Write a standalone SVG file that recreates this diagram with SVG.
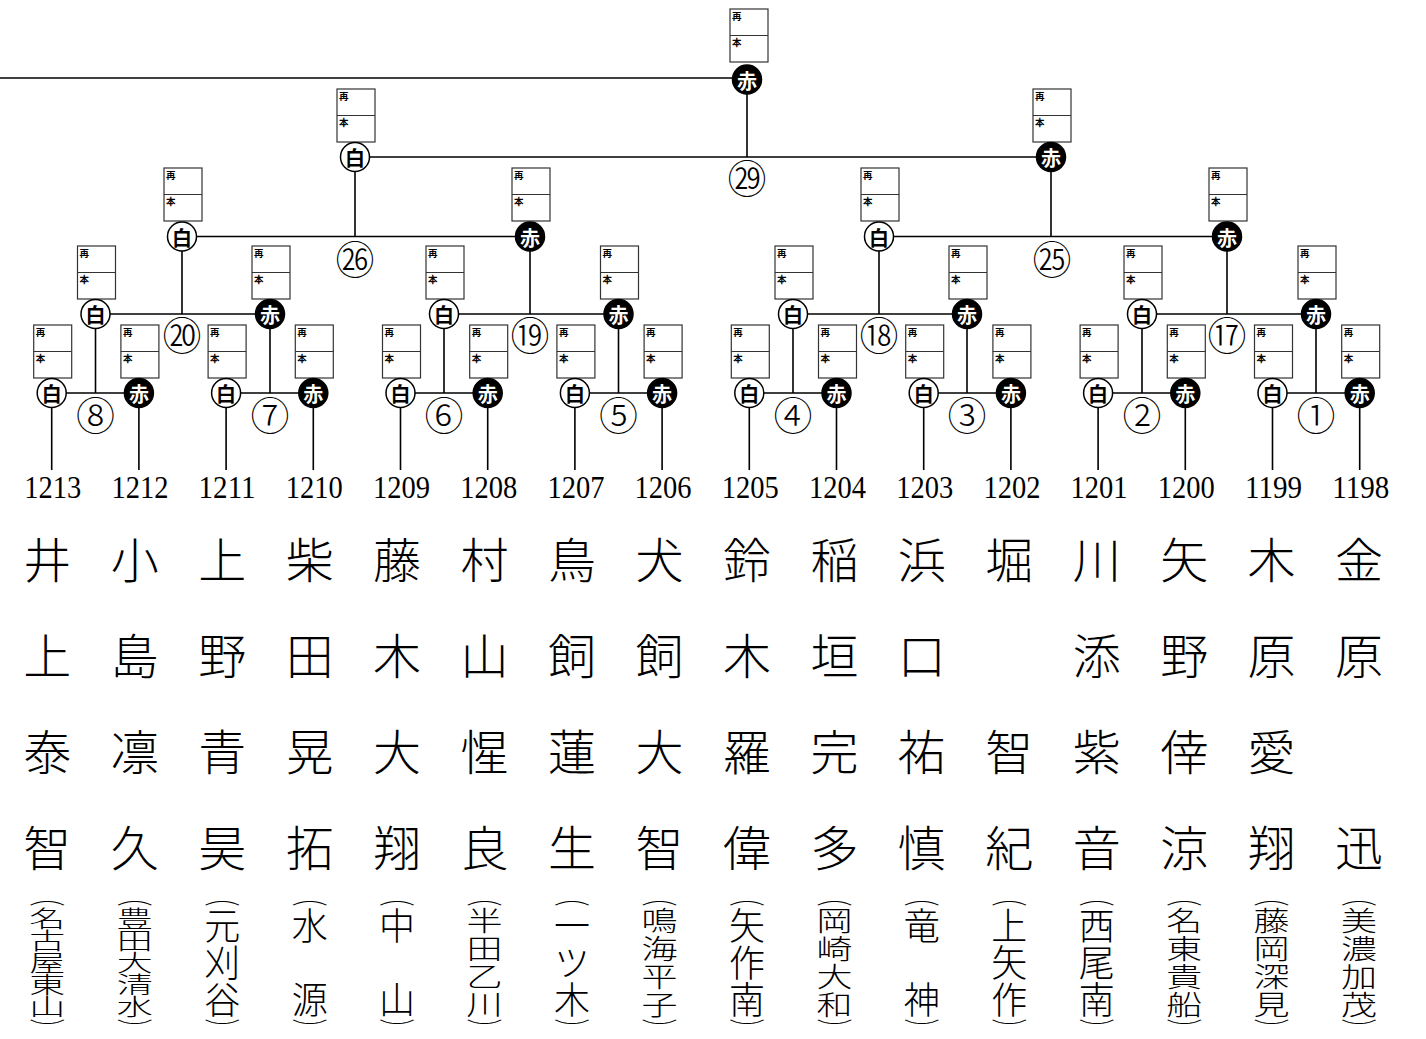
<svg xmlns="http://www.w3.org/2000/svg" xmlns:xlink="http://www.w3.org/1999/xlink" width="1426" height="1039" viewBox="0 0 1426 1039">
<style>
.ln{stroke:#000;stroke-width:1.6;fill:none}
.bx{fill:#fff;stroke:#333;stroke-width:1.2}
.sm{font-family:"Noto Sans CJK JP",sans-serif;font-weight:bold;font-size:9.5px;fill:#000}
.mk{font-family:"Noto Sans CJK JP",sans-serif;font-weight:bold;font-size:20px;text-anchor:middle;dominant-baseline:central}
.rn{font-family:"Noto Sans CJK JP",sans-serif;font-weight:300;font-size:39px;text-anchor:middle;dominant-baseline:central;fill:#000}
.num{font-family:"Liberation Serif",serif;font-size:32px;text-anchor:middle;fill:#000}
.nm{font-family:"Noto Sans CJK JP",sans-serif;font-weight:300;font-size:48px;text-anchor:middle;dominant-baseline:central;fill:#000}
.sc{font-family:"Noto Sans CJK JP",sans-serif;font-weight:300;font-size:36px;writing-mode:vertical-rl;fill:#000}
</style>
<defs>
<g id="sb"><rect class="bx" x="0" y="0" width="38" height="53"/><line x1="0" y1="26.5" x2="38" y2="26.5" stroke="#333" stroke-width="1.2"/><text class="sm" x="2" y="11">再</text><text class="sm" x="2" y="37">本</text></g>
<g id="mw"><circle r="14.5" fill="#fff" stroke="#000" stroke-width="1.5"/><text class="mk" y="0.5" fill="#000">白</text></g>
<g id="mr"><circle r="14.5" fill="#000" stroke="#000" stroke-width="1.5"/><text class="mk" y="0.5" fill="#fff">赤</text></g>
</defs>
<rect width="1426" height="1039" fill="#fff"/>

<g id="connectors" class="ln">
<path d="M0 78H747M747 79.5V157M355 157H1051M355 157V236.5M1051 157V236.5"/>
<path d="M182 236.5H530M879 236.5H1227M182 236.5V314M530 236.5V314M879 236.5V314M1227 236.5V314"/>
<path d="M95.5 314H270M444 314H618.5M793 314H967M1142 314H1316"/>
<path d="M95.5 314V393M270 314V393M444 314V393M618.5 314V393M793 314V393M967 314V393M1142 314V393M1316 314V393"/>
<path d="M51.7 393H138.9M226.1 393H313.3M400.5 393H487.7M574.9 393H662.1M749.3 393H836.5M923.7 393H1010.9M1098.1 393H1185.3M1272.5 393H1359.7"/>
<path d="M51.7 393V470M138.9 393V470M226.1 393V470M313.3 393V470M400.5 393V470M487.7 393V470M574.9 393V470M662.1 393V470M749.3 393V470M836.5 393V470M923.7 393V470M1010.9 393V470M1098.1 393V470M1185.3 393V470M1272.5 393V470M1359.7 393V470"/>
</g>

<g id="match-labels">
<text class="rn" x="747" y="176">㉙</text>
<text class="rn" x="355" y="257">㉖</text>
<text class="rn" x="1052" y="257">㉕</text>
<text class="rn" x="182" y="332.5">⑳</text>
<text class="rn" x="530" y="332.5">⑲</text>
<text class="rn" x="879" y="332.5">⑱</text>
<text class="rn" x="1227" y="332.5">⑰</text>
<text class="rn" x="95.5" y="413">⑧</text>
<text class="rn" x="270" y="413">⑦</text>
<text class="rn" x="444" y="413">⑥</text>
<text class="rn" x="618.5" y="413">⑤</text>
<text class="rn" x="793" y="413">④</text>
<text class="rn" x="967" y="413">③</text>
<text class="rn" x="1142" y="413">②</text>
<text class="rn" x="1316" y="413">①</text>
</g>

<g id="n-final"><use xlink:href="#sb" x="730" y="9"/><use xlink:href="#mr" x="747" y="79.5"/></g>
<g id="n-l4-1"><use xlink:href="#sb" x="337" y="89"/><use xlink:href="#mw" x="355" y="157"/></g>
<g id="n-l4-2"><use xlink:href="#sb" x="1033" y="89"/><use xlink:href="#mr" x="1051" y="157"/></g>
<g id="n-l3-1"><use xlink:href="#sb" x="164" y="168"/><use xlink:href="#mw" x="182" y="236.5"/></g>
<g id="n-l3-2"><use xlink:href="#sb" x="512" y="168"/><use xlink:href="#mr" x="530" y="236.5"/></g>
<g id="n-l3-3"><use xlink:href="#sb" x="861" y="168"/><use xlink:href="#mw" x="879" y="236.5"/></g>
<g id="n-l3-4"><use xlink:href="#sb" x="1209" y="168"/><use xlink:href="#mr" x="1227" y="236.5"/></g>
<g id="n-l2-1"><use xlink:href="#sb" x="77.5" y="246"/><use xlink:href="#mw" x="95.5" y="314"/></g>
<g id="n-l2-2"><use xlink:href="#sb" x="252" y="246"/><use xlink:href="#mr" x="270" y="314"/></g>
<g id="n-l2-3"><use xlink:href="#sb" x="426" y="246"/><use xlink:href="#mw" x="444" y="314"/></g>
<g id="n-l2-4"><use xlink:href="#sb" x="600.5" y="246"/><use xlink:href="#mr" x="618.5" y="314"/></g>
<g id="n-l2-5"><use xlink:href="#sb" x="775" y="246"/><use xlink:href="#mw" x="793" y="314"/></g>
<g id="n-l2-6"><use xlink:href="#sb" x="949" y="246"/><use xlink:href="#mr" x="967" y="314"/></g>
<g id="n-l2-7"><use xlink:href="#sb" x="1124" y="246"/><use xlink:href="#mw" x="1142" y="314"/></g>
<g id="n-l2-8"><use xlink:href="#sb" x="1298" y="246"/><use xlink:href="#mr" x="1316" y="314"/></g>

<g id="n-1213"><use xlink:href="#sb" x="33.7" y="325"/><use xlink:href="#mw" x="51.7" y="393"/></g>
<g id="n-1212"><use xlink:href="#sb" x="120.9" y="325"/><use xlink:href="#mr" x="138.9" y="393"/></g>
<g id="n-1211"><use xlink:href="#sb" x="208.1" y="325"/><use xlink:href="#mw" x="226.1" y="393"/></g>
<g id="n-1210"><use xlink:href="#sb" x="295.3" y="325"/><use xlink:href="#mr" x="313.3" y="393"/></g>
<g id="n-1209"><use xlink:href="#sb" x="382.5" y="325"/><use xlink:href="#mw" x="400.5" y="393"/></g>
<g id="n-1208"><use xlink:href="#sb" x="469.7" y="325"/><use xlink:href="#mr" x="487.7" y="393"/></g>
<g id="n-1207"><use xlink:href="#sb" x="556.9" y="325"/><use xlink:href="#mw" x="574.9" y="393"/></g>
<g id="n-1206"><use xlink:href="#sb" x="644.1" y="325"/><use xlink:href="#mr" x="662.1" y="393"/></g>
<g id="n-1205"><use xlink:href="#sb" x="731.3" y="325"/><use xlink:href="#mw" x="749.3" y="393"/></g>
<g id="n-1204"><use xlink:href="#sb" x="818.5" y="325"/><use xlink:href="#mr" x="836.5" y="393"/></g>
<g id="n-1203"><use xlink:href="#sb" x="905.7" y="325"/><use xlink:href="#mw" x="923.7" y="393"/></g>
<g id="n-1202"><use xlink:href="#sb" x="992.9" y="325"/><use xlink:href="#mr" x="1010.9" y="393"/></g>
<g id="n-1201"><use xlink:href="#sb" x="1080.1" y="325"/><use xlink:href="#mw" x="1098.1" y="393"/></g>
<g id="n-1200"><use xlink:href="#sb" x="1167.3" y="325"/><use xlink:href="#mr" x="1185.3" y="393"/></g>
<g id="n-1199"><use xlink:href="#sb" x="1254.5" y="325"/><use xlink:href="#mw" x="1272.5" y="393"/></g>
<g id="n-1198"><use xlink:href="#sb" x="1341.7" y="325"/><use xlink:href="#mr" x="1359.7" y="393"/></g>

<g id="entry-numbers">
<text class="num" x="52.7" y="498" textLength="57" lengthAdjust="spacingAndGlyphs">1213</text>
<text class="num" x="139.9" y="498" textLength="57" lengthAdjust="spacingAndGlyphs">1212</text>
<text class="num" x="227.1" y="498" textLength="57" lengthAdjust="spacingAndGlyphs">1211</text>
<text class="num" x="314.3" y="498" textLength="57" lengthAdjust="spacingAndGlyphs">1210</text>
<text class="num" x="401.5" y="498" textLength="57" lengthAdjust="spacingAndGlyphs">1209</text>
<text class="num" x="488.7" y="498" textLength="57" lengthAdjust="spacingAndGlyphs">1208</text>
<text class="num" x="575.9" y="498" textLength="57" lengthAdjust="spacingAndGlyphs">1207</text>
<text class="num" x="663.1" y="498" textLength="57" lengthAdjust="spacingAndGlyphs">1206</text>
<text class="num" x="750.3" y="498" textLength="57" lengthAdjust="spacingAndGlyphs">1205</text>
<text class="num" x="837.5" y="498" textLength="57" lengthAdjust="spacingAndGlyphs">1204</text>
<text class="num" x="924.7" y="498" textLength="57" lengthAdjust="spacingAndGlyphs">1203</text>
<text class="num" x="1011.9" y="498" textLength="57" lengthAdjust="spacingAndGlyphs">1202</text>
<text class="num" x="1099.1" y="498" textLength="57" lengthAdjust="spacingAndGlyphs">1201</text>
<text class="num" x="1186.3" y="498" textLength="57" lengthAdjust="spacingAndGlyphs">1200</text>
<text class="num" x="1273.5" y="498" textLength="57" lengthAdjust="spacingAndGlyphs">1199</text>
<text class="num" x="1360.7" y="498" textLength="57" lengthAdjust="spacingAndGlyphs">1198</text>
</g>

<g id="names">
<g id="name-1213"><text class="nm" x="47.3" y="557">井</text><text class="nm" x="47.3" y="653">上</text><text class="nm" x="47.3" y="749">泰</text><text class="nm" x="47.3" y="845">智</text></g>
<g id="name-1212"><text class="nm" x="134.8" y="557">小</text><text class="nm" x="134.8" y="653">島</text><text class="nm" x="134.8" y="749">凛</text><text class="nm" x="134.8" y="845">久</text></g>
<g id="name-1211"><text class="nm" x="222.2" y="557">上</text><text class="nm" x="222.2" y="653">野</text><text class="nm" x="222.2" y="749">青</text><text class="nm" x="222.2" y="845">昊</text></g>
<g id="name-1210"><text class="nm" x="309.7" y="557">柴</text><text class="nm" x="309.7" y="653">田</text><text class="nm" x="309.7" y="749">晃</text><text class="nm" x="309.7" y="845">拓</text></g>
<g id="name-1209"><text class="nm" x="397.1" y="557">藤</text><text class="nm" x="397.1" y="653">木</text><text class="nm" x="397.1" y="749">大</text><text class="nm" x="397.1" y="845">翔</text></g>
<g id="name-1208"><text class="nm" x="484.6" y="557">村</text><text class="nm" x="484.6" y="653">山</text><text class="nm" x="484.6" y="749">惺</text><text class="nm" x="484.6" y="845">良</text></g>
<g id="name-1207"><text class="nm" x="572" y="557">鳥</text><text class="nm" x="572" y="653">飼</text><text class="nm" x="572" y="749">蓮</text><text class="nm" x="572" y="845">生</text></g>
<g id="name-1206"><text class="nm" x="659.5" y="557">犬</text><text class="nm" x="659.5" y="653">飼</text><text class="nm" x="659.5" y="749">大</text><text class="nm" x="659.5" y="845">智</text></g>
<g id="name-1205"><text class="nm" x="746.9" y="557">鈴</text><text class="nm" x="746.9" y="653">木</text><text class="nm" x="746.9" y="749">羅</text><text class="nm" x="746.9" y="845">偉</text></g>
<g id="name-1204"><text class="nm" x="834.4" y="557">稲</text><text class="nm" x="834.4" y="653">垣</text><text class="nm" x="834.4" y="749">完</text><text class="nm" x="834.4" y="845">多</text></g>
<g id="name-1203"><text class="nm" x="921.8" y="557">浜</text><text class="nm" x="921.8" y="653">口</text><text class="nm" x="921.8" y="749">祐</text><text class="nm" x="921.8" y="845">慎</text></g>
<g id="name-1202"><text class="nm" x="1009.3" y="557">堀</text><text class="nm" x="1009.3" y="749">智</text><text class="nm" x="1009.3" y="845">紀</text></g>
<g id="name-1201"><text class="nm" x="1096.7" y="557">川</text><text class="nm" x="1096.7" y="653">添</text><text class="nm" x="1096.7" y="749">紫</text><text class="nm" x="1096.7" y="845">音</text></g>
<g id="name-1200"><text class="nm" x="1184.2" y="557">矢</text><text class="nm" x="1184.2" y="653">野</text><text class="nm" x="1184.2" y="749">倖</text><text class="nm" x="1184.2" y="845">涼</text></g>
<g id="name-1199"><text class="nm" x="1271.6" y="557">木</text><text class="nm" x="1271.6" y="653">原</text><text class="nm" x="1271.6" y="749">愛</text><text class="nm" x="1271.6" y="845">翔</text></g>
<g id="name-1198"><text class="nm" x="1359.1" y="557">金</text><text class="nm" x="1359.1" y="653">原</text><text class="nm" x="1359.1" y="845">迅</text></g>
</g>

<g id="schools">
<g id="school-1213"><text class="sc" transform="translate(47.3 887) scale(1 0.55)">（</text><text class="sc" transform="translate(47.3 907) scale(1 0.617)">名古屋東山</text><text class="sc" transform="translate(47.3 1019) scale(1 0.55)">）</text></g>
<g id="school-1212"><text class="sc" transform="translate(134.8 887) scale(1 0.55)">（</text><text class="sc" transform="translate(134.8 907) scale(1 0.617)">豊田大清水</text><text class="sc" transform="translate(134.8 1019) scale(1 0.55)">）</text></g>
<g id="school-1211"><text class="sc" transform="translate(222.2 887) scale(1 0.55)">（</text><text class="sc" transform="translate(222.2 907) scale(1 1.028)">元刈谷</text><text class="sc" transform="translate(222.2 1019) scale(1 0.55)">）</text></g>
<g id="school-1210"><text class="sc" transform="translate(309.7 887) scale(1 0.55)">（</text><text class="sc" transform="translate(309.7 907) scale(1 1.028)">水　源</text><text class="sc" transform="translate(309.7 1019) scale(1 0.55)">）</text></g>
<g id="school-1209"><text class="sc" transform="translate(397.1 887) scale(1 0.55)">（</text><text class="sc" transform="translate(397.1 907) scale(1 1.028)">中　山</text><text class="sc" transform="translate(397.1 1019) scale(1 0.55)">）</text></g>
<g id="school-1208"><text class="sc" transform="translate(484.6 887) scale(1 0.55)">（</text><text class="sc" transform="translate(484.6 907) scale(1 0.771)">半田乙川</text><text class="sc" transform="translate(484.6 1019) scale(1 0.55)">）</text></g>
<g id="school-1207"><text class="sc" transform="translate(572 887) scale(1 0.55)">（</text><text class="sc" transform="translate(572 907) scale(1 1.028)">一ツ木</text><text class="sc" transform="translate(572 1019) scale(1 0.55)">）</text></g>
<g id="school-1206"><text class="sc" transform="translate(659.5 887) scale(1 0.55)">（</text><text class="sc" transform="translate(659.5 907) scale(1 0.771)">鳴海平子</text><text class="sc" transform="translate(659.5 1019) scale(1 0.55)">）</text></g>
<g id="school-1205"><text class="sc" transform="translate(746.9 887) scale(1 0.55)">（</text><text class="sc" transform="translate(746.9 907) scale(1 1.028)">矢作南</text><text class="sc" transform="translate(746.9 1019) scale(1 0.55)">）</text></g>
<g id="school-1204"><text class="sc" transform="translate(834.4 887) scale(1 0.55)">（</text><text class="sc" transform="translate(834.4 907) scale(1 0.771)">岡崎大和</text><text class="sc" transform="translate(834.4 1019) scale(1 0.55)">）</text></g>
<g id="school-1203"><text class="sc" transform="translate(921.8 887) scale(1 0.55)">（</text><text class="sc" transform="translate(921.8 907) scale(1 1.028)">竜　神</text><text class="sc" transform="translate(921.8 1019) scale(1 0.55)">）</text></g>
<g id="school-1202"><text class="sc" transform="translate(1009.3 887) scale(1 0.55)">（</text><text class="sc" transform="translate(1009.3 907) scale(1 1.028)">上矢作</text><text class="sc" transform="translate(1009.3 1019) scale(1 0.55)">）</text></g>
<g id="school-1201"><text class="sc" transform="translate(1096.7 887) scale(1 0.55)">（</text><text class="sc" transform="translate(1096.7 907) scale(1 1.028)">西尾南</text><text class="sc" transform="translate(1096.7 1019) scale(1 0.55)">）</text></g>
<g id="school-1200"><text class="sc" transform="translate(1184.2 887) scale(1 0.55)">（</text><text class="sc" transform="translate(1184.2 907) scale(1 0.771)">名東貴船</text><text class="sc" transform="translate(1184.2 1019) scale(1 0.55)">）</text></g>
<g id="school-1199"><text class="sc" transform="translate(1271.6 887) scale(1 0.55)">（</text><text class="sc" transform="translate(1271.6 907) scale(1 0.771)">藤岡深見</text><text class="sc" transform="translate(1271.6 1019) scale(1 0.55)">）</text></g>
<g id="school-1198"><text class="sc" transform="translate(1359.1 887) scale(1 0.55)">（</text><text class="sc" transform="translate(1359.1 907) scale(1 0.771)">美濃加茂</text><text class="sc" transform="translate(1359.1 1019) scale(1 0.55)">）</text></g>
</g>
</svg>
